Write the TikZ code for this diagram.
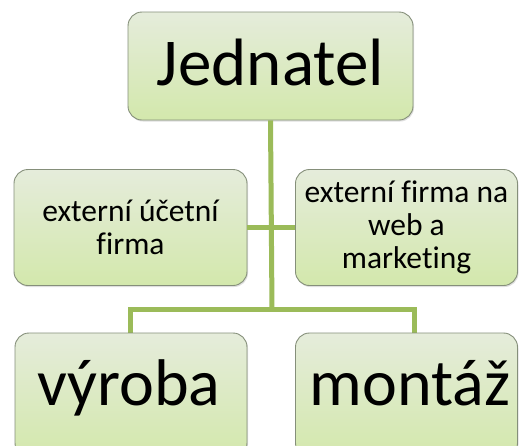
\documentclass[tikz,border=0pt]{standalone}
\usepackage{fontspec}
\setmainfont{Carlito}[Ligatures={NoCommon,NoContextual}]
\usetikzlibrary{shadows}
\definecolor{linegreen}{HTML}{9BBB59}
\definecolor{boxtop}{HTML}{E5ECDB}
\definecolor{boxbot}{HTML}{D3E8AC}
\definecolor{boxborder}{HTML}{858F7A}
\tikzset{
  orgbox/.style={draw=boxborder, line width=0.9pt, rounded corners=14pt,
    top color=boxtop, bottom color=boxbot, align=center, inner sep=0pt,
    drop shadow={shadow xshift=1pt, shadow yshift=-1.5pt, opacity=0.25}},
  conn/.style={draw=linegreen, line width=5pt},
  bigtext/.style={font=\fontsize{66}{78}\selectfont, anchor=base, inner sep=0pt}
}
\begin{document}
\begin{tikzpicture}[x=1pt,y=1pt]
\clip (0,0) rectangle (520,-445);
\fill[white] (0,0) rectangle (520,-445);
% connectors
\coordinate (mid) at (272,-227.5);
\coordinate (bar) at (272,-309.5);
\coordinate (barL) at (130,-309.5);
\coordinate (barR) at (414,-309.5);
\coordinate (dropL) at (130,-335);
\coordinate (dropR) at (414,-335);
\draw[conn, line cap=rect] (barL) -- (barR);
\draw[conn] (barL) -- (dropL);
\draw[conn] (barR) -- (dropR);
% boxes
\node[orgbox, minimum width=285, minimum height=108, font=\fontsize{67}{80}\selectfont,
  text height=47pt, text depth=9pt]
  (boss) at (270.5,-66) {Jednatel};
\node[orgbox, minimum width=233, minimum height=116, font=\fontsize{31.5}{33.5}\selectfont]
  (ucet) at (130.5,-227.5) {externí účetní\\firma};
\node[orgbox, minimum width=222, minimum height=116, font=\fontsize{31.5}{33}\selectfont]
  (web) at (406.5,-227.5) {externí firma na\\web a\\marketing};
\node[orgbox, minimum width=232, minimum height=124] (vyroba) at (131,-395) {};
\node[orgbox, minimum width=222, minimum height=124] (montaz) at (406.5,-395) {};
\node[bigtext] (vyrobat) at (129,-405) {výroba};
\node[bigtext] (montazt) at (410,-405) {montáž};
\draw[conn] (boss.south) -- (bar);
\draw[conn] (ucet.east) -- (mid);
\draw[conn] (mid) -- (web.west);
\end{tikzpicture}
\end{document}
